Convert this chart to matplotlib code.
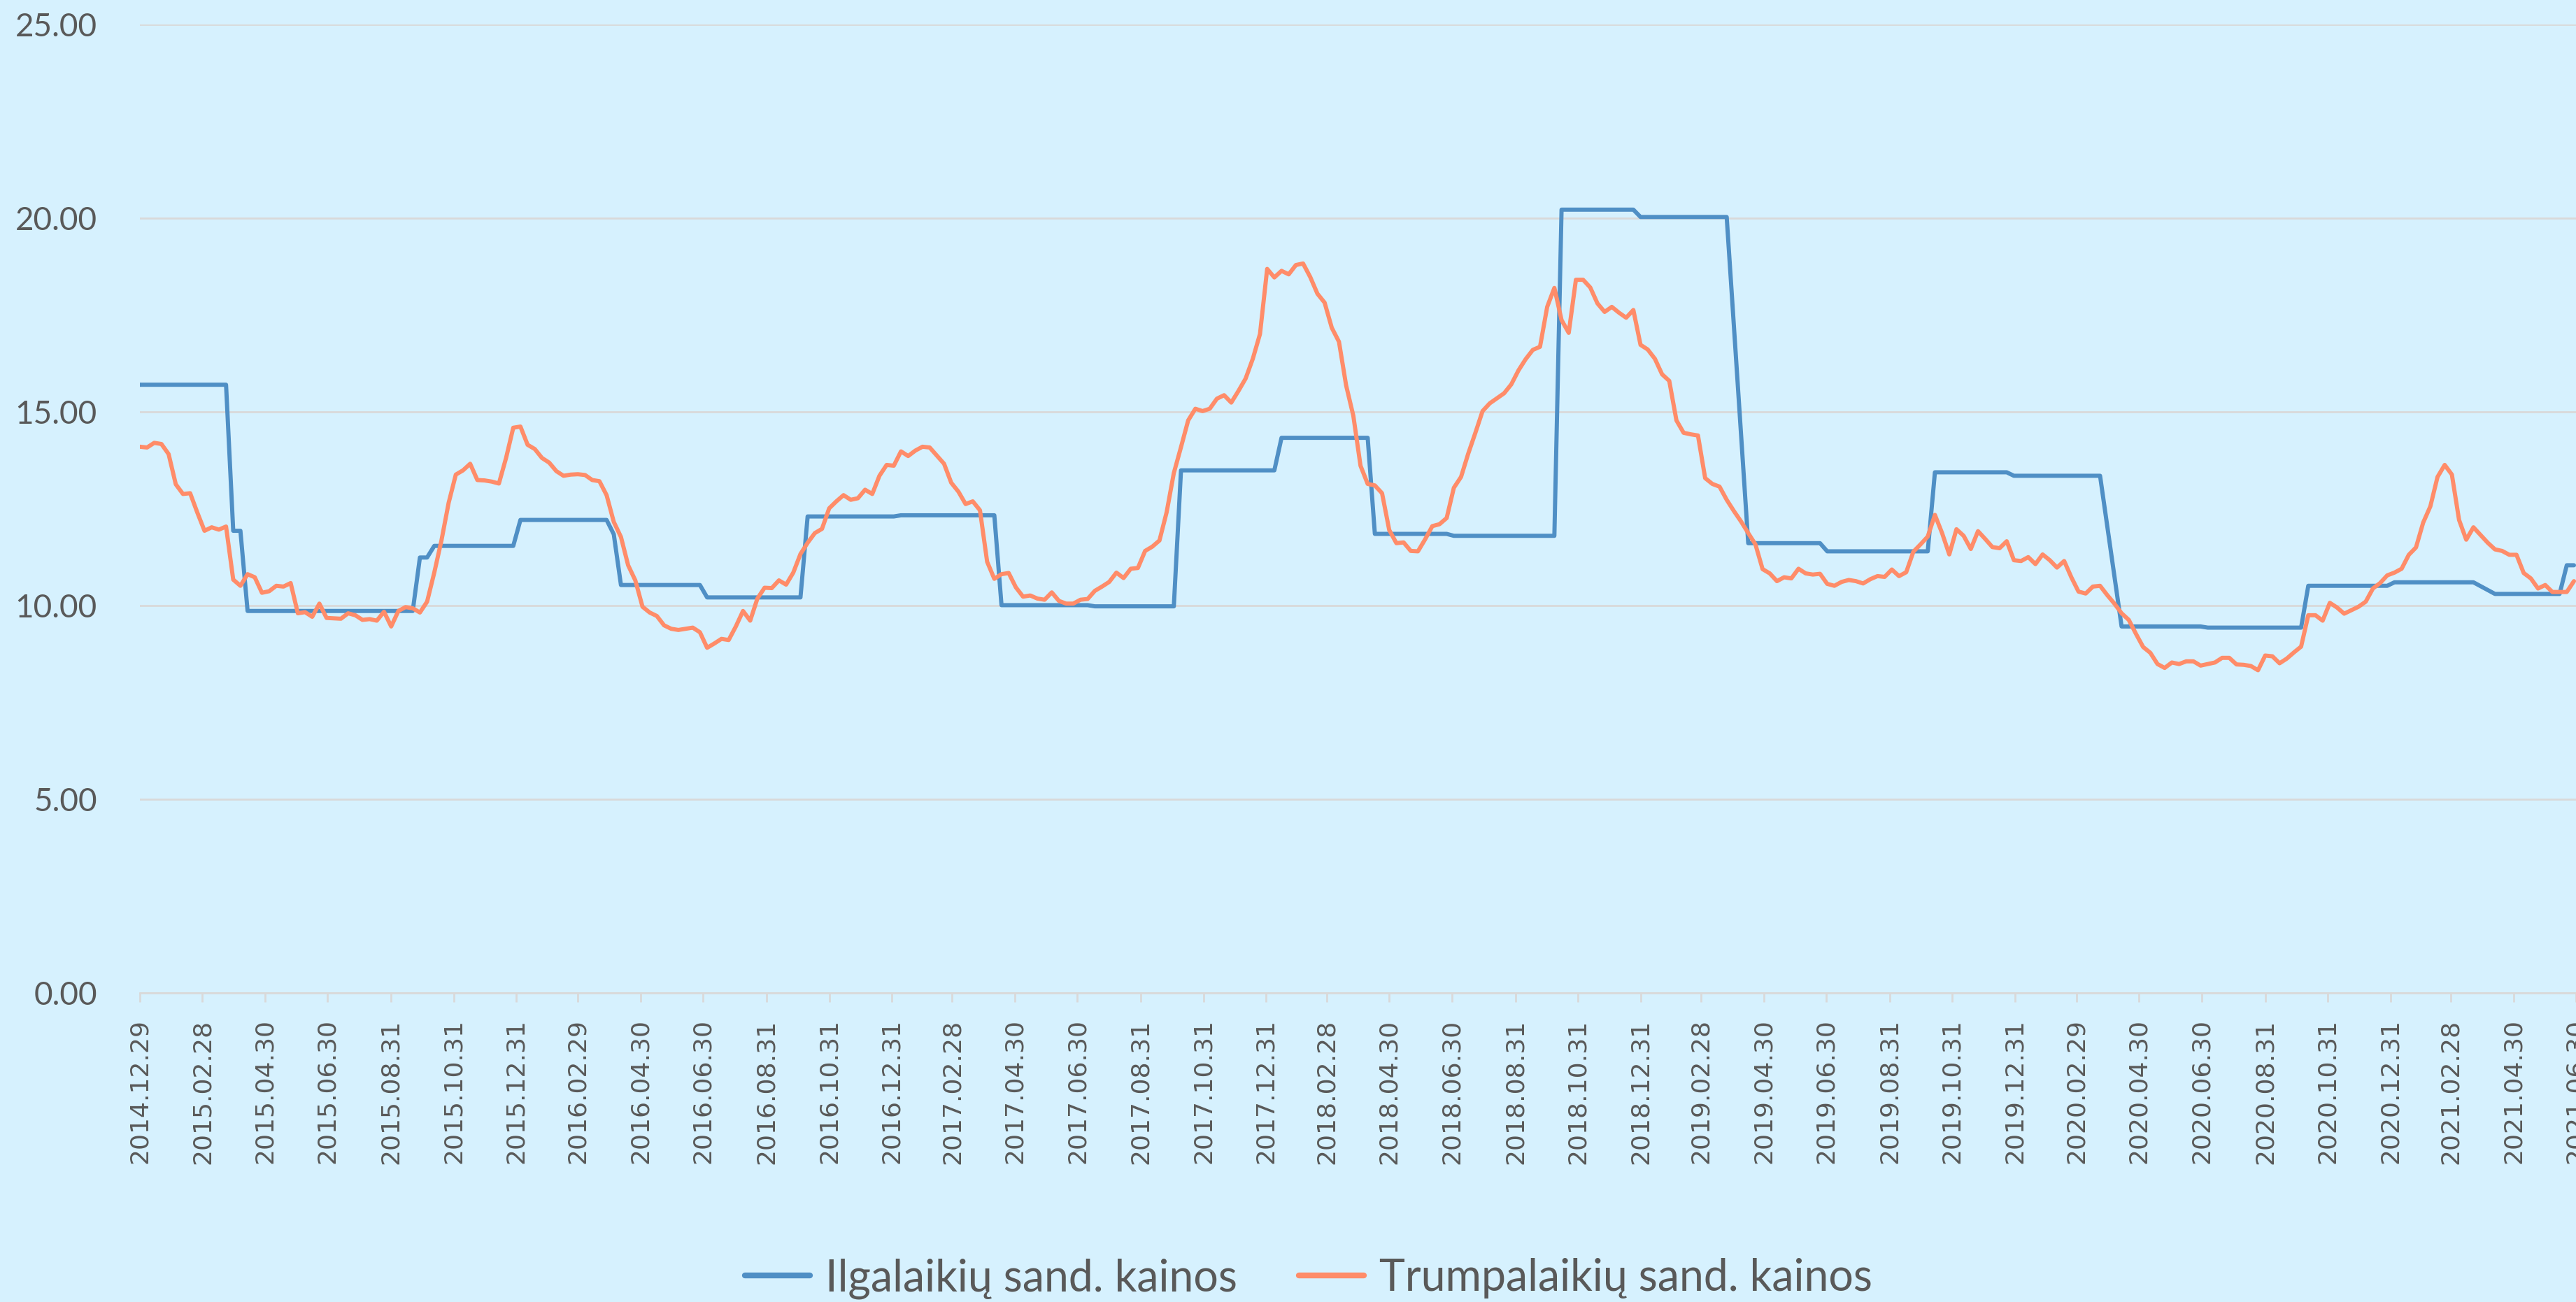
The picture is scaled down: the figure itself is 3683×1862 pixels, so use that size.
import numpy as np
import pandas as pd
import matplotlib
matplotlib.use("Agg")
import matplotlib.pyplot as plt
from matplotlib.ticker import FormatStrFormatter

# weekly series, first week 2014-12-29
start_date = "2014-12-29"

short_term = [
    14.10, 14.08, 14.20, 14.17, 13.91, 13.13, 12.88, 12.90, 12.40, 11.93,
    12.02, 11.96, 12.04, 10.67, 10.51, 10.81, 10.73, 10.33, 10.37, 10.51,
    10.49, 10.58, 9.80, 9.83, 9.71, 10.05, 9.68, 9.67, 9.66, 9.80,
    9.75, 9.63, 9.65, 9.61, 9.84, 9.46, 9.86, 9.96, 9.93, 9.82,
    10.10, 10.85, 11.68, 12.65, 13.38, 13.49, 13.66, 13.24, 13.23, 13.20,
    13.15, 13.81, 14.59, 14.62, 14.15, 14.04, 13.81, 13.69, 13.47, 13.35,
    13.38, 13.39, 13.37, 13.24, 13.21, 12.85, 12.16, 11.77, 11.04, 10.65,
    9.97, 9.82, 9.73, 9.49, 9.40, 9.37, 9.40, 9.43, 9.31, 8.91,
    9.02, 9.14, 9.11, 9.46, 9.86, 9.61, 10.18, 10.46, 10.45, 10.65,
    10.54, 10.85, 11.33, 11.62, 11.87, 11.98, 12.51, 12.69, 12.85, 12.73,
    12.77, 12.99, 12.88, 13.35, 13.63, 13.61, 13.98, 13.86, 14.00, 14.10,
    14.08, 13.87, 13.66, 13.17, 12.94, 12.62, 12.69, 12.46, 11.13, 10.69,
    10.81, 10.84, 10.47, 10.23, 10.26, 10.18, 10.15, 10.34, 10.12, 10.05,
    10.05, 10.15, 10.17, 10.38, 10.49, 10.61, 10.85, 10.71, 10.95, 10.97,
    11.41, 11.52, 11.68, 12.41, 13.42, 14.09, 14.78, 15.08, 15.02, 15.08,
    15.34, 15.43, 15.24, 15.54, 15.86, 16.37, 17.01, 18.69, 18.47, 18.64,
    18.55, 18.79, 18.83, 18.48, 18.05, 17.82, 17.17, 16.81, 15.68, 14.90,
    13.61, 13.14, 13.10, 12.90, 11.95, 11.61, 11.63, 11.41, 11.40, 11.71,
    12.05, 12.10, 12.26, 13.04, 13.32, 13.92, 14.46, 15.02, 15.22, 15.35,
    15.48, 15.71, 16.07, 16.36, 16.60, 16.68, 17.71, 18.20, 17.37, 17.04,
    18.41, 18.41, 18.21, 17.80, 17.58, 17.71, 17.56, 17.43, 17.63, 16.73,
    16.61, 16.37, 15.97, 15.80, 14.78, 14.46, 14.42, 14.39, 13.29, 13.14,
    13.07, 12.73, 12.44, 12.17, 11.87, 11.58, 10.94, 10.83, 10.63, 10.73,
    10.70, 10.95, 10.83, 10.80, 10.82, 10.56, 10.51, 10.61, 10.66, 10.63,
    10.57, 10.68, 10.76, 10.74, 10.93, 10.76, 10.86, 11.39, 11.58, 11.78,
    12.34, 11.87, 11.32, 11.97, 11.80, 11.46, 11.92, 11.72, 11.51, 11.48,
    11.66, 11.17, 11.15, 11.25, 11.07, 11.32, 11.17, 10.98, 11.15, 10.73,
    10.36, 10.31, 10.49, 10.51, 10.27, 10.05, 9.80, 9.63, 9.27, 8.93,
    8.78, 8.49, 8.39, 8.53, 8.49, 8.56, 8.56, 8.45, 8.49, 8.53,
    8.65, 8.65, 8.48, 8.47, 8.44, 8.33, 8.71, 8.69, 8.51, 8.63,
    8.79, 8.94, 9.75, 9.75, 9.61, 10.07, 9.95, 9.79, 9.88, 9.97,
    10.10, 10.44, 10.58, 10.78, 10.85, 10.95, 11.31, 11.50, 12.14, 12.56,
    13.32, 13.63, 13.38, 12.21, 11.70, 12.02, 11.82, 11.62, 11.45, 11.41,
    11.31, 11.31, 10.84, 10.70, 10.44, 10.53, 10.35, 10.35, 10.35, 10.63,
]

# long-term prices: week index of each corner and its value
long_week = [0, 12, 13, 14, 15, 38, 39, 40, 41, 52, 53, 65, 66, 67, 78, 79,
             92, 93, 105, 106, 119, 120, 132, 133, 144, 145, 158, 159, 171,
             172, 182, 183, 197, 198, 208, 209, 221, 224, 234, 235, 249, 250,
             260, 261, 273, 276, 287, 288, 301, 302, 313, 314, 325, 328, 337,
             338, 339]
long_term = [15.70, 15.70, 11.93, 11.93, 9.86, 9.86, 11.24, 11.24, 11.54,
             11.54, 12.21, 12.21, 11.84, 10.53, 10.53, 10.21, 10.21, 12.30,
             12.30, 12.33, 12.33, 10.01, 10.01, 9.98, 9.98, 13.49, 13.49,
             14.33, 14.33, 11.85, 11.85, 11.80, 11.80, 20.22, 20.22, 20.03,
             20.03, 11.61, 11.61, 11.40, 11.40, 13.44, 13.44, 13.35, 13.35,
             9.46, 9.46, 9.43, 9.43, 10.51, 10.51, 10.60, 10.60, 10.30, 10.30,
             11.04, 11.04]

tick_labels = [
    "2014.12.29", "2015.02.28", "2015.04.30", "2015.06.30", "2015.08.31",
    "2015.10.31", "2015.12.31", "2016.02.29", "2016.04.30", "2016.06.30",
    "2016.08.31", "2016.10.31", "2016.12.31", "2017.02.28", "2017.04.30",
    "2017.06.30", "2017.08.31", "2017.10.31", "2017.12.31", "2018.02.28",
    "2018.04.30", "2018.06.30", "2018.08.31", "2018.10.31", "2018.12.31",
    "2019.02.28", "2019.04.30", "2019.06.30", "2019.08.31", "2019.10.31",
    "2019.12.31", "2020.02.29", "2020.04.30", "2020.06.30", "2020.08.31",
    "2020.10.31", "2020.12.31", "2021.02.28", "2021.04.30", "2021.06.30",
]

series_names = ["Ilgalaikių sand. kainos", "Trumpalaikių sand. kainos"]

bg = "#d6f1fe"
blue = "#4f8fc5"
orange = "#ff8c69"
text_col = "#595959"
grid_col = "#d9d9d9"

t0 = pd.Timestamp(start_date)
short_dates = t0 + pd.to_timedelta(np.arange(len(short_term)) * 7, unit="D")
long_dates = t0 + pd.to_timedelta(np.array(long_week) * 7, unit="D")
tick_dates = pd.to_datetime(tick_labels, format="%Y.%m.%d")

fig = plt.figure(figsize=(36.83, 18.62), dpi=100, facecolor=bg)
ax = fig.add_axes([200 / 3683, 442 / 1862, 1 - 200 / 3683, 1385 / 1862])
ax.set_facecolor(bg)

ax.plot(long_dates, long_term, color=blue, lw=4.3, label=series_names[0],
        solid_joinstyle="round", solid_capstyle="round", zorder=3)
ax.plot(short_dates, short_term, color=orange, lw=4.3, label=series_names[1],
        solid_joinstyle="round", solid_capstyle="round", zorder=4)

ax.set_ylim(0, 25)
ax.set_yticks(np.arange(0, 26, 5))
ax.yaxis.set_major_formatter(FormatStrFormatter("%.2f"))
ax.set_xlim(pd.Timestamp("2014-12-29"), pd.Timestamp("2021-06-30"))
ax.set_xticks(tick_dates)
ax.set_xticklabels(tick_labels, rotation=90, family="DejaVu Sans",
                   fontsize=26, color=text_col)

ax.grid(axis="y", color=grid_col, lw=2)
ax.set_axisbelow(True)
for s in ["top", "right", "left"]:
    ax.spines[s].set_visible(False)
ax.spines["bottom"].set_color(grid_col)
ax.spines["bottom"].set_linewidth(2)

ax.tick_params(axis="y", length=0, pad=44, labelsize=33, labelcolor=text_col)
ax.tick_params(axis="x", length=9, width=2, color=grid_col, pad=18)
for lab in ax.get_yticklabels():
    lab.set_family("Lato")

leg = fig.legend(loc="center", bbox_to_anchor=(0.508, 0.018), ncol=2,
                 frameon=False, prop={"family": "Lato", "size": 45},
                 handlelength=1.5, handletextpad=0.35, columnspacing=1.4)
for t in leg.get_texts():
    t.set_color(text_col)
for h in leg.get_lines():
    h.set_linewidth(6)

fig.savefig("out.png", dpi=100, facecolor=bg)
